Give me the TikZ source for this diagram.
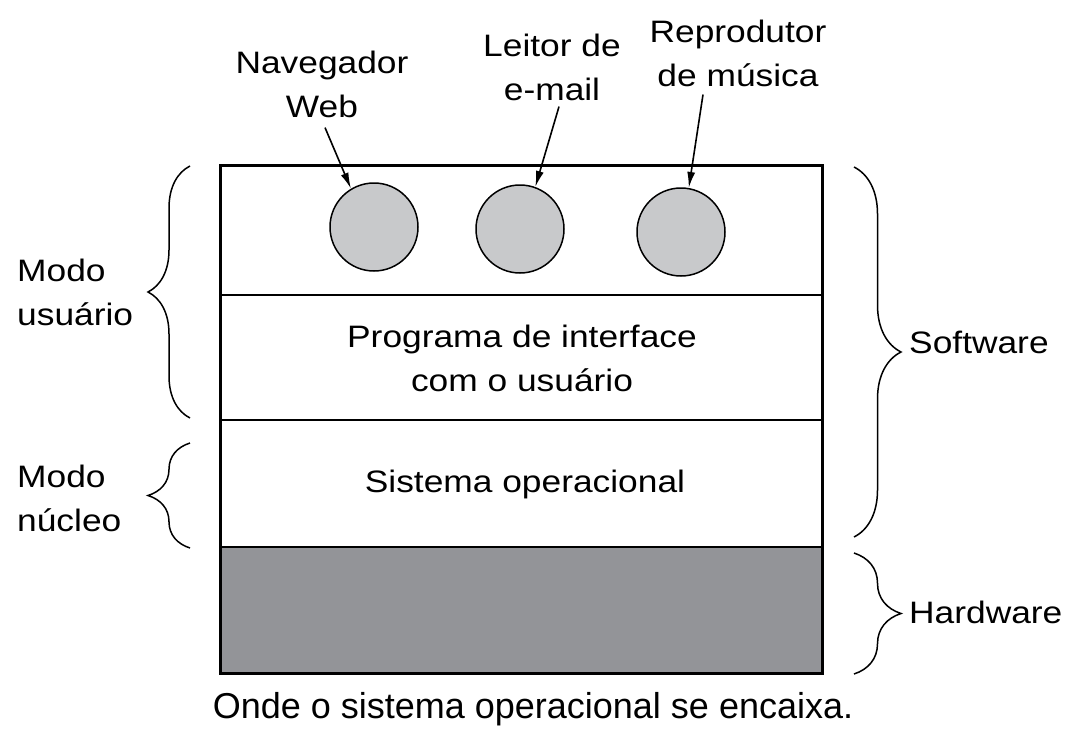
\documentclass[tikz,border=0pt]{standalone}
\usepackage{fontspec}
\setmainfont{Liberation Sans}[FakeStretch=1.14]
\newfontfamily\capfont{Liberation Sans}
\usetikzlibrary{arrows.meta,decorations.pathreplacing}
\definecolor{appgray}{RGB}{200,201,203}
\definecolor{hwgray}{RGB}{147,148,152}

\begin{document}
\begin{tikzpicture}[x=1pt,y=-1pt]

\tikzset{txt/.style = {font=\fontsize{31}{44}\selectfont, align=center, inner sep=0pt}}
\tikzset{app/.style = {shape=circle,draw,fill=appgray,line width=1.5pt,minimum size=88pt}}
\tikzset{edge/.style = {-{Latex[length=16pt,width=8pt]},line width=1.6pt}}
\tikzset{curly/.style = {decorate,decoration={brace,amplitude=#1},line width=1.5pt}}

\useasboundingbox (0,0) rectangle (1070,731);

%layers
\fill[hwgray] (220,547) rectangle (822,673);
\draw[line width=2.5pt] (220,295) -- (822,295);
\draw[line width=2.5pt] (220,420) -- (822,420);
\draw[line width=2.5pt] (220,547) -- (822,547);
\draw[line width=3pt] (220,165) rectangle (822,673);

\node[txt] (ui) at (522,358) {Programa de interface\\com o usuário};
\node[txt] (os) at (525,484) {Sistema operacional};

%applications
\node[app] (c1) at (374,227) {};
\node[app] (c2) at (520,229) {};
\node[app] (c3) at (681,232) {};

\node[txt] (nav) at (322,84) {Navegador\\Web};
\node[txt] (lei) at (552,67) {Leitor de\\e-mail};
\node[txt] (rep) at (738,53) {Reprodutor\\de música};

%arrows
\draw[edge] (nav.south) ++(3,10) -- (c1.121);
\draw[edge] (lei.south) ++(7,6) -- (c2.70);
\draw[edge] (rep.south) ++(-35,8) -- (c3.80);

%braces
\draw[curly=42] (190,418) -- (190,166);
\draw[curly=42] (190,548) -- (190,443);
\draw[curly=47] (854,167) -- (854,537);
\draw[curly=47] (854,553) -- (854,674);

\node[txt, align=left, anchor=west] (usr) at (17,292) {Modo\\usuário};
\node[txt, align=left, anchor=west] (nuc) at (17,498) {Modo\\núcleo};
\node[txt, anchor=west] (sw) at (909,342) {Software};
\node[txt, anchor=west] (hw) at (909,612) {Hardware};

\node[font=\capfont\fontsize{36}{42}\selectfont, inner sep=0pt] (cap) at (533,709) {Onde o sistema operacional se encaixa.};
\end{tikzpicture}
\end{document}
